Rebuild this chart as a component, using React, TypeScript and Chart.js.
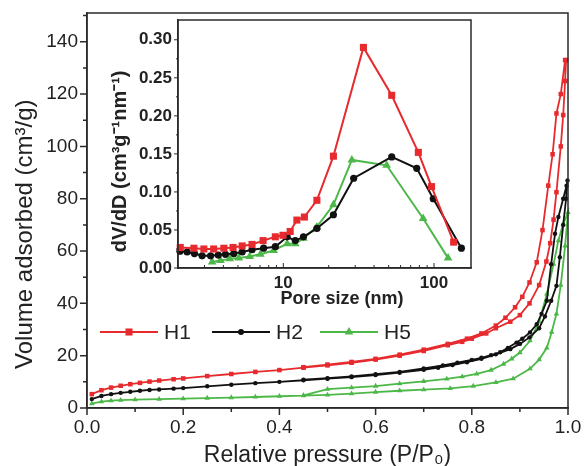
import React, { useEffect, useRef } from 'react';
import { Chart, registerables } from 'chart.js';
Chart.register(...registerables);

// ---------- Main isotherm data (relative pressure P/P0, volume cm3/g) ----------
const H1_ADS_P = [0.01,0.03,0.05,0.07,0.09,0.11,0.13,0.15,0.18,0.20,0.25,0.30,0.35,0.40,0.45,0.50,0.55,0.60,0.65,0.70,0.75,0.78,0.80,0.83,0.85,0.88,0.90,0.92,0.94,0.955,0.963,0.97,0.976,0.985,0.99,0.994,0.996];
const H1_ADS_V = [5.3,6.8,7.8,8.5,9.1,9.6,10.1,10.5,11.0,11.3,12.2,13.0,13.8,14.5,15.4,16.3,17.3,18.5,20.0,21.8,24.0,25.3,26.5,28.5,30.5,33.0,35.5,40,47,56,63,72,82.5,100,112,125,133];
const H1_DES_P = [0.994,0.985,0.976,0.968,0.959,0.947,0.935,0.92,0.905,0.89,0.87,0.85,0.82,0.79,0.75,0.70,0.65,0.60,0.55,0.50,0.45];
const H1_DES_V = [133,120,112.6,97,85,68,55.7,48,42.5,38.5,34.5,31.5,28.5,26.5,24.5,22.3,20.4,18.8,17.6,16.6,15.6];

const H2_ADS_P = [0.01,0.03,0.05,0.07,0.09,0.11,0.13,0.15,0.18,0.20,0.25,0.30,0.35,0.40,0.45,0.50,0.55,0.60,0.65,0.70,0.73,0.76,0.79,0.82,0.85,0.88,0.90,0.92,0.94,0.952,0.965,0.976,0.983,0.99,0.996,0.999];
const H2_ADS_V = [3.4,4.6,5.3,5.8,6.2,6.6,6.9,7.1,7.4,7.6,8.3,8.9,9.5,10.0,10.6,11.2,11.8,12.6,13.5,14.6,15.4,16.4,17.5,18.8,20.5,22.5,24.5,27,30.5,35,41,46.7,57.6,70,80,87];
const H2_DES_P = [0.997,0.99,0.98,0.973,0.965,0.956,0.945,0.935,0.921,0.905,0.893,0.875,0.859,0.84,0.82,0.80,0.77,0.74,0.70,0.65,0.60,0.55,0.50,0.45];
const H2_DES_V = [85,80,73,66.6,55,41,36,32,28.9,26.5,25,23,21.3,20.2,19.2,18.4,17.3,16.3,15.1,13.8,12.9,12.1,11.4,10.8];

const H5_ADS_P = [0.01,0.03,0.05,0.07,0.10,0.15,0.20,0.25,0.30,0.35,0.40,0.45,0.50,0.55,0.60,0.65,0.70,0.755,0.803,0.85,0.886,0.921,0.94,0.956,0.966,0.976,0.985,0.994,1.0];
const H5_ADS_V = [1.7,2.4,2.8,3.0,3.2,3.4,3.6,3.8,4.0,4.2,4.5,4.7,5.0,5.5,6.1,6.6,7.0,7.5,8.4,9.8,11.2,15,18.5,23,29,36,47,62,74.8];
const H5_DES_P = [0.99,0.98,0.97,0.956,0.94,0.921,0.9,0.883,0.866,0.84,0.81,0.78,0.748,0.70,0.65,0.60,0.55,0.50,0.45];
const H5_DES_V = [70.4,64,55,43.6,33,25.7,21.2,18.8,16.8,14.5,13.0,12.0,11.1,10.2,9.3,8.4,7.8,7.2,4.8];

// ---------- Inset pore size distribution (nm, dV/dD) ----------
const H1_D = [2.07,2.55,2.97,3.45,4.03,4.64,5.33,6.2,7.34,8.85,9.95,11.1,12.3,13.8,16.7,21.5,34.0,52.4,78.7,96.3,135];
const H1_DV = [0.027,0.026,0.025,0.025,0.026,0.027,0.029,0.031,0.036,0.041,0.043,0.048,0.063,0.067,0.089,0.147,0.290,0.227,0.152,0.107,0.034];
const H2_D = [2.06,2.3,2.57,2.89,3.29,3.7,4.13,4.69,5.33,6.2,7.4,8.85,10.6,12.0,13.6,16.7,21.5,29.3,52.4,76.8,98.9,152];
const H2_DV = [0.022,0.021,0.019,0.016,0.016,0.017,0.018,0.019,0.021,0.024,0.026,0.028,0.041,0.036,0.041,0.052,0.070,0.118,0.146,0.131,0.091,0.026];
const H5_D = [3.37,3.83,4.41,5.06,5.98,7.04,8.62,10.6,12.0,13.6,16.7,21.5,28.5,48.5,84.7,124];
const H5_DV = [0.008,0.010,0.012,0.013,0.015,0.018,0.023,0.032,0.032,0.039,0.054,0.083,0.142,0.135,0.065,0.013];

// ---------- labels ----------
const SERIES_NAMES = ['H1', 'H2', 'H5'];
const MAIN_X_TITLE = 'Relative pressure (P/P\u2080)';
const MAIN_Y_TITLE = 'Volume adsorbed (cm\u00B3/g)';
const INSET_X_TITLE = 'Pore size (nm)';
const INSET_Y_TITLE = 'dV/dD (cm\u00B3g\u207B\u00B9nm\u207B\u00B9)';

const RED = '#e62a2d';
const BLACK = '#111111';
const GREEN = '#4cb848';
const AXIS = '#2a2a2a';
const TEXT = '#222222';
const FONT = "'Liberation Sans', Arial, sans-serif";
const COLORS = [RED, BLACK, GREEN];
const STYLES = ['rect', 'circle', 'triangle'];

const pts = (xs: number[], ys: number[]) => xs.map((x, i) => ({ x, y: ys[i] }));
const loop = (ap: number[], av: number[], dp: number[], dv: number[]) => [...pts(ap, av), ...pts(dp, dv)];

function drawMarker(ctx: CanvasRenderingContext2D, style: string, x: number, y: number, r: number, color: string) {
  ctx.fillStyle = color;
  ctx.beginPath();
  if (style === 'rect') {
    const s = r * Math.SQRT1_2;
    ctx.rect(x - s, y - s, 2 * s, 2 * s);
  } else if (style === 'circle') {
    ctx.arc(x, y, r, 0, Math.PI * 2);
  } else {
    ctx.moveTo(x, y - r);
    ctx.lineTo(x + r * 0.866, y + r * 0.5);
    ctx.lineTo(x - r * 0.866, y + r * 0.5);
    ctx.closePath();
  }
  ctx.fill();
}

function drawTitle(ctx: CanvasRenderingContext2D, text: string, x: number, y: number, font: string, rotated: boolean) {
  ctx.save();
  ctx.translate(x, y);
  if (rotated) ctx.rotate(-Math.PI / 2);
  ctx.font = font;
  ctx.fillStyle = TEXT;
  ctx.textAlign = 'center';
  ctx.textBaseline = 'middle';
  ctx.fillText(text, 0, 0);
  ctx.restore();
}

const noPadV = (s: any) => { s.paddingTop = 0; s.paddingBottom = 0; };
const noPadH = (s: any) => { s.paddingLeft = 0; s.paddingRight = 0; };

const mainDecor = {
  id: 'mainDecor',
  afterDraw(chart: any) {
    const { ctx, chartArea: a, scales } = chart;
    const x = scales.x, y = scales.y;
    ctx.save();
    ctx.strokeStyle = AXIS;
    ctx.lineWidth = 1.5;
    ctx.strokeRect(a.left, a.top, a.right - a.left, a.bottom - a.top);
    ctx.beginPath();
    for (let i = 0; i <= 10; i++) {
      const px = x.getPixelForValue(i / 10);
      const len = i % 2 === 0 ? 7 : 4;
      ctx.moveTo(px, a.bottom);
      ctx.lineTo(px, a.bottom + len);
    }
    for (let v = 0; v <= 150; v += 10) {
      const py = y.getPixelForValue(v);
      const len = v % 20 === 0 ? 7 : 4;
      ctx.moveTo(a.left, py);
      ctx.lineTo(a.left - len, py);
    }
    ctx.stroke();
    // axis titles
    drawTitle(ctx, MAIN_X_TITLE, (a.left + a.right) / 2, 456, `23px ${FONT}`, false);
    drawTitle(ctx, MAIN_Y_TITLE, 25, a.top + (a.bottom - a.top) * 0.56, `24px ${FONT}`, true);
    // legend
    const lx = [a.left + 13, a.left + 125, a.left + 233];
    const ly = 332;
    const lineLen = 58;
    ctx.font = `21px ${FONT}`;
    ctx.textBaseline = 'middle';
    ctx.textAlign = 'left';
    SERIES_NAMES.forEach((name, i) => {
      ctx.strokeStyle = COLORS[i];
      ctx.lineWidth = 2;
      ctx.beginPath();
      ctx.moveTo(lx[i], ly);
      ctx.lineTo(lx[i] + lineLen, ly);
      ctx.stroke();
      drawMarker(ctx, STYLES[i], lx[i] + lineLen / 2, ly, i === 1 ? 3 : 5, COLORS[i]);
      ctx.fillStyle = TEXT;
      ctx.fillText(name, lx[i] + lineLen + 6, ly + 1);
    });
    ctx.restore();
  },
};

const insetDecor = {
  id: 'insetDecor',
  beforeDraw(chart: any) {
    const { ctx, chartArea: a } = chart;
    ctx.save();
    ctx.fillStyle = '#ffffff';
    ctx.fillRect(a.left, a.top, a.right - a.left, a.bottom - a.top);
    ctx.restore();
  },
  afterDraw(chart: any) {
    const { ctx, chartArea: a, scales } = chart;
    const x = scales.x, y = scales.y;
    ctx.save();
    ctx.strokeStyle = AXIS;
    ctx.lineWidth = 1.5;
    ctx.strokeRect(a.left, a.top, a.right - a.left, a.bottom - a.top);
    ctx.lineWidth = 1;
    ctx.beginPath();
    for (let v = 0; v <= 0.3001; v += 0.025) {
      const py = y.getPixelForValue(v);
      const major = Math.round(v / 0.025) % 2 === 0;
      ctx.moveTo(a.left, py);
      ctx.lineTo(a.left - (major ? 4 : 2), py);
    }
    const decades = [1, 10, 100];
    decades.forEach((d) => {
      for (let k = 1; k <= 9; k++) {
        const v = d * k;
        if (v < x.min || v > x.max) continue;
        const px = x.getPixelForValue(v);
        const len = k === 1 ? 5 : 3;
        ctx.moveTo(px, a.bottom);
        ctx.lineTo(px, a.bottom - len);
      }
    });
    ctx.stroke();
    drawTitle(ctx, INSET_X_TITLE, a.left + (a.right - a.left) * 0.56, 284, `bold 18px ${FONT}`, false);
    drawTitle(ctx, INSET_Y_TITLE, 10, a.top + (a.bottom - a.top) * 0.57, `bold 20px ${FONT}`, true);
    ctx.restore();
  },
};

export default function App() {
  const mainRef = useRef<HTMLCanvasElement>(null);
  const insetRef = useRef<HTMLCanvasElement>(null);

  useEffect(() => {
    const mainData = [
      loop(H1_ADS_P, H1_ADS_V, H1_DES_P, H1_DES_V),
      loop(H2_ADS_P, H2_ADS_V, H2_DES_P, H2_DES_V),
      loop(H5_ADS_P, H5_ADS_V, H5_DES_P, H5_DES_V),
    ];
    const main = new Chart(mainRef.current as HTMLCanvasElement, {
      type: 'scatter',
      data: {
        datasets: SERIES_NAMES.map((name, i) => ({
          label: name,
          data: mainData[i],
          showLine: true,
          borderColor: COLORS[i],
          backgroundColor: COLORS[i],
          borderWidth: 1.8,
          pointStyle: STYLES[i] as any,
          pointRadius: i === 1 ? 2.2 : 3.2,
          pointBorderWidth: 0,
          clip: false as any,
        })),
      },
      options: {
        animation: false,
        responsive: false,
        maintainAspectRatio: false,
        layout: { padding: { left: 10, top: 13, right: 20, bottom: 0 } },
        plugins: { legend: { display: false }, tooltip: { enabled: false } },
        scales: {
          x: {
            type: 'linear',
            min: 0,
            max: 1,
            afterFit: (s: any) => { s.height = 58; noPadH(s); },
            grid: { display: true, drawOnChartArea: false, drawTicks: false },
            border: { display: true, color: AXIS, width: 1.5 },
            ticks: {
              stepSize: 0.2,
              includeBounds: false,
              padding: 8,
              maxRotation: 0,
              color: TEXT,
              font: { family: FONT, size: 19 },
              callback: (v: any) => Number(v).toFixed(1),
            },
            title: { display: false, text: MAIN_X_TITLE },
          },
          y: {
            type: 'linear',
            min: 0,
            max: 151,
            afterFit: (s: any) => { s.width = 77; noPadV(s); },
            grid: { display: true, drawOnChartArea: false, drawTicks: false },
            border: { display: true, color: AXIS, width: 1.5 },
            ticks: {
              stepSize: 20,
              includeBounds: false,
              padding: 9,
              color: TEXT,
              font: { family: FONT, size: 19 },
              callback: (v: any) => String(v),
            },
            title: { display: false, text: MAIN_Y_TITLE },
          },
        },
      },
      plugins: [mainDecor],
    });

    const insetData = [pts(H1_D, H1_DV), pts(H2_D, H2_DV), pts(H5_D, H5_DV)];
    const inset = new Chart(insetRef.current as HTMLCanvasElement, {
      type: 'scatter',
      data: {
        datasets: SERIES_NAMES.map((name, i) => ({
          label: name,
          data: insetData[i],
          showLine: true,
          borderColor: COLORS[i],
          backgroundColor: COLORS[i],
          borderWidth: 2,
          pointStyle: STYLES[i] as any,
          pointRadius: i === 1 ? 3.6 : 5,
          pointBorderWidth: 0,
          clip: false as any,
        })),
      },
      options: {
        animation: false,
        responsive: false,
        maintainAspectRatio: false,
        layout: { padding: { left: 0, top: 4, right: 9, bottom: 0 } },
        plugins: { legend: { display: false }, tooltip: { enabled: false } },
        scales: {
          x: {
            type: 'logarithmic',
            min: 2.0,
            max: 176,
            afterFit: (s: any) => { s.height = 47; noPadH(s); },
            grid: { display: true, drawOnChartArea: false, drawTicks: false },
            border: { display: true, color: AXIS, width: 1.5 },
            ticks: {
              autoSkip: false,
              padding: 5,
              maxRotation: 0,
              color: TEXT,
              font: { family: FONT, size: 17, weight: 'bold' },
              callback: (v: any) => (v === 10 || v === 100 ? String(v) : ''),
            },
            title: { display: false, text: INSET_X_TITLE },
          },
          y: {
            type: 'linear',
            min: 0,
            max: 0.326,
            afterFit: (s: any) => { s.width = 68; noPadV(s); },
            grid: { display: true, drawOnChartArea: false, drawTicks: false },
            border: { display: true, color: AXIS, width: 1.5 },
            ticks: {
              stepSize: 0.05,
              includeBounds: false,
              padding: 6,
              color: TEXT,
              font: { family: FONT, size: 17, weight: 'bold' },
              callback: (v: any) => Number(v).toFixed(2),
            },
            title: { display: false, text: INSET_Y_TITLE },
          },
        },
      },
      plugins: [insetDecor],
    });

    return () => {
      main.destroy();
      inset.destroy();
    };
  }, []);

  return (
    <div style={{ position: 'fixed', left: 0, top: 0, width: 588, height: 466, background: '#ffffff' }}>
      <canvas ref={mainRef} width={588} height={466} style={{ position: 'absolute', left: 0, top: 0, width: 588, height: 466 }} />
      <canvas ref={insetRef} width={370} height={300} style={{ position: 'absolute', left: 110, top: 15, width: 370, height: 300 }} />
    </div>
  );
}
